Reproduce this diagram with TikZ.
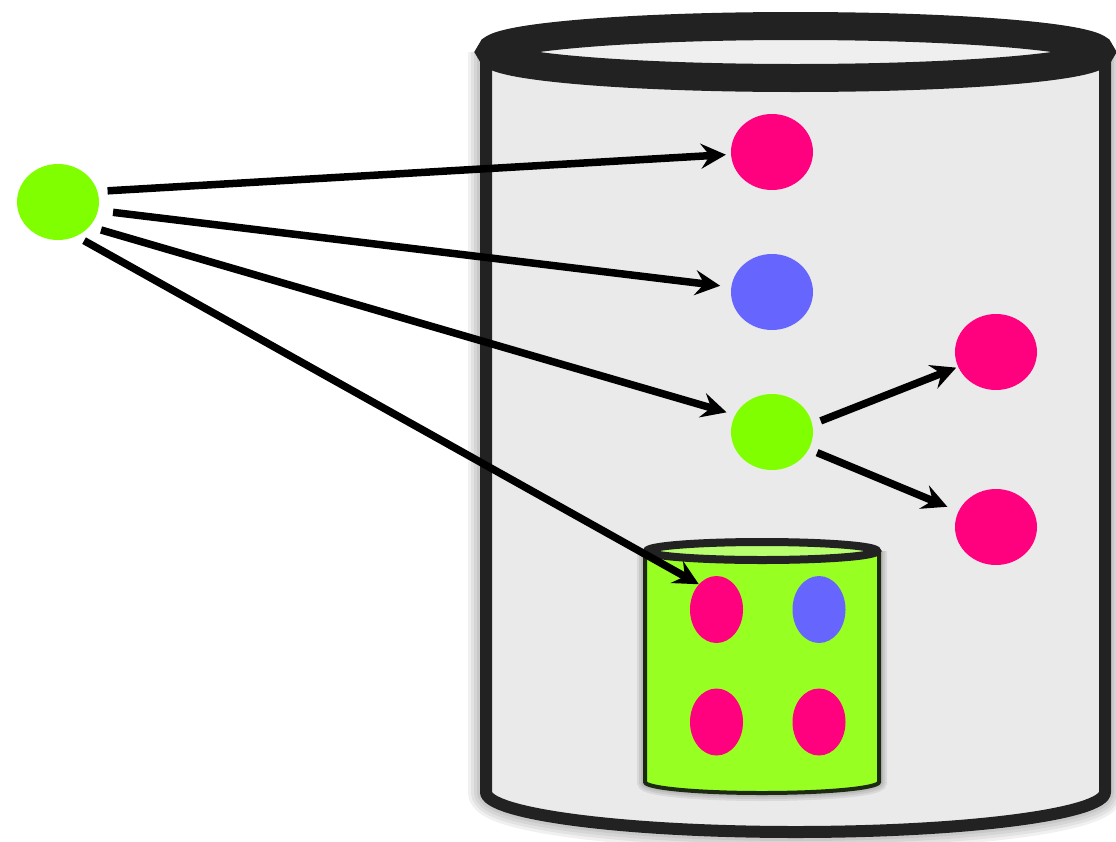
\documentclass[tikz,border=0pt]{standalone}
\usetikzlibrary{arrows.meta,shapes.geometric}
\definecolor{pinkc}{HTML}{FF007F}
\definecolor{bluec}{HTML}{6666FF}
\definecolor{greenc}{HTML}{7FFF00}
\definecolor{smallgreen}{HTML}{98FF22}
\definecolor{rimgreen}{HTML}{B8FF70}
\definecolor{wallgray}{HTML}{EAEAEA}
\definecolor{rimgray}{HTML}{EFEFEF}
\definecolor{darkline}{HTML}{222222}
\definecolor{smallline}{HTML}{1C2A12}
\tikzset{
  ball/.style={ellipse, inner sep=0pt, draw=none, minimum width=82pt, minimum height=76pt},
  oval/.style={ellipse, inner sep=0pt, draw=none, minimum width=53pt, minimum height=67pt},
  arr/.style={line width=7.5pt, -{Stealth[length=25pt,width=25pt,inset=9pt]}},
  cylwall/.style={line width=12pt, draw=darkline},
}
\begin{document}
\begin{tikzpicture}[x=1pt,y=-1pt]
\useasboundingbox (0,0) rectangle (1116,841);
% big cylinder shadow halo
\foreach \w in {36,30,24,18} {
  \draw[line width=\w pt, black, opacity=0.06]
    (486,52) -- (486,792) arc[start angle=180,end angle=360,x radius=309.5pt,y radius=40pt] -- (1105,52);
}
% big cylinder body
\fill[wallgray] (486,52) -- (486,792) arc[start angle=180,end angle=360,x radius=309.5pt,y radius=40pt] -- (1105,52) -- cycle;
\draw[cylwall] (486,52) -- (486,792) arc[start angle=180,end angle=360,x radius=309.5pt,y radius=40pt] -- (1105,52);
% top rim
\draw[line width=28pt, draw=darkline, fill=rimgray] (795.5,52) ellipse [x radius=305pt, y radius=26pt];

% small cylinder
\foreach \w in {16,12,8} {
  \draw[line width=\w pt, black, opacity=0.07]
    (645,551) -- (645,782) arc[start angle=180,end angle=360,x radius=117pt,y radius=11pt] -- (879,551);
}
\fill[smallgreen] (645,551) -- (645,782) arc[start angle=180,end angle=360,x radius=117pt,y radius=11pt] -- (879,551) -- cycle;
\draw[line width=4pt, draw=smallline] (645,551) -- (645,782) arc[start angle=180,end angle=360,x radius=117pt,y radius=11pt] -- (879,551);
\draw[line width=8pt, draw=darkline, fill=rimgreen] (762,551) ellipse [x radius=115pt, y radius=9pt];

\node[oval, fill=pinkc] (sp1) at (716.5,609.5) {};
\node[oval, fill=bluec] (sb1) at (819,609.5) {};
\node[oval, fill=pinkc] (sp2) at (716.5,722) {};
\node[oval, fill=pinkc] (sp3) at (819,722) {};

% balls
\node[ball, fill=greenc] (src) at (58,202) {};
\node[ball, fill=pinkc] (p1) at (772,152) {};
\node[ball, fill=bluec] (b1) at (772,292) {};
\node[ball, fill=greenc] (g2) at (772,432) {};
\node[ball, fill=pinkc] (pr1) at (996,352) {};
\node[ball, fill=pinkc] (pr2) at (996,527) {};

% arrows
\draw[arr, shorten <=10pt, shorten >=5pt] (src.15) -- (p1);
\draw[arr, shorten <=15pt, shorten >=11pt] (src.-12) -- (b1);
\draw[arr, shorten <=12pt, shorten >=9pt] (src.-38) -- (g2.155);
\draw[arr, shorten <=9pt] (src.-62) -- (sp1.125);
\draw[arr, shorten <=9pt, shorten >=2pt] (g2.11) -- (pr1);
\draw[arr, shorten <=9pt, shorten >=12pt] (g2.-25) -- (pr2);
\end{tikzpicture}
\end{document}
